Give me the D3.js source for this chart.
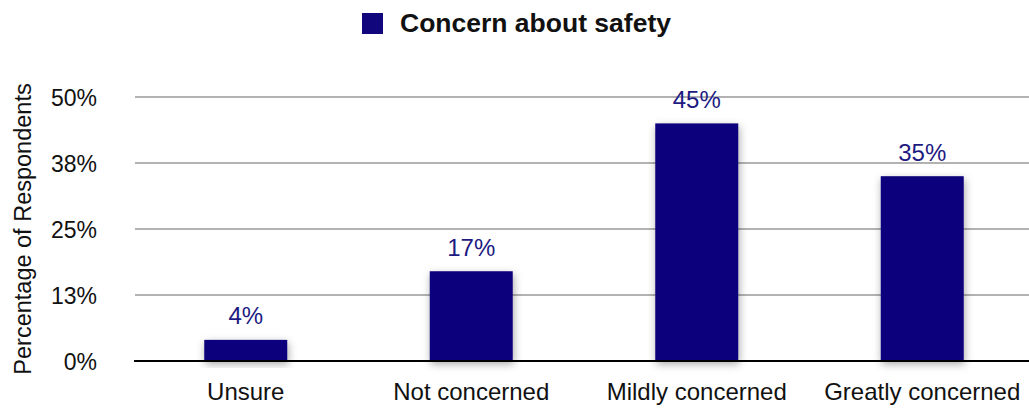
<!DOCTYPE html>
<html>
<head>
<meta charset="utf-8">
<script src="https://cdn.jsdelivr.net/npm/d3@7"></script>
<style>
  html, body { margin: 0; padding: 0; background: #fff; }
  svg { display: block; font-family: "Liberation Sans", Arial, Helvetica, sans-serif; }
</style>
</head>
<body>
<svg id="chart" width="1029" height="409"></svg>
<script>
// Survey data
const categories = ["Unsure", "Not concerned", "Mildly concerned", "Greatly concerned"];
const values = [4, 17, 45, 35];
const seriesName = "Concern about safety";
const tickValues = [0, 12.5, 25, 37.5, 50];
const tickLabels = ["0%", "13%", "25%", "38%", "50%"];
const yTitle = "Percentage of Respondents";

const barColor = "#11067b";
const labelColor = "#1d1a82";
const textColor = "#111";

const svg = d3.select("#chart");
const W = 1029;

const x = d3.scaleBand().domain(categories).range([133, 1035]).paddingInner(0.632).paddingOuter(0.316);
const y = d3.scaleLinear().domain([0, 50]).range([361, 97]);

// soft drop shadow under bars
const defs = svg.append("defs");
const f = defs.append("filter").attr("id", "shadow").attr("x", "-30%").attr("y", "-30%").attr("width", "160%").attr("height", "160%");
f.append("feDropShadow").attr("dx", 1).attr("dy", 3).attr("stdDeviation", 4)
  .attr("flood-color", "#000").attr("flood-opacity", 0.35);

// gridlines
svg.append("g").selectAll("line").data(tickValues.filter(d => d > 0)).join("line")
  .attr("x1", 135).attr("x2", W)
  .attr("y1", d => y(d)).attr("y2", d => y(d))
  .attr("stroke", "#b2b2b2").attr("stroke-width", 2);

// y tick labels
const yAxis = d3.axisLeft(y).tickValues(tickValues).tickFormat((d, i) => tickLabels[i]).tickSize(0).tickPadding(0);
const ya = svg.append("g").attr("transform", "translate(97,0)").call(yAxis);
ya.select(".domain").remove();
ya.selectAll("text").attr("font-size", 23).attr("fill", textColor).attr("dy", "0.35em")
  .attr("font-family", "Liberation Sans, Arial, sans-serif");

// y title
svg.append("text")
  .attr("transform", `translate(31, 229) rotate(-90)`)
  .attr("text-anchor", "middle")
  .attr("font-size", 23.5).attr("fill", textColor)
  .text(yTitle);

// bars
svg.append("g").selectAll("rect").data(values).join("rect")
  .attr("x", (d, i) => x(categories[i]))
  .attr("width", x.bandwidth())
  .attr("y", d => y(d))
  .attr("height", d => y(0) - y(d))
  .attr("fill", barColor)
  .attr("filter", "url(#shadow)");

// baseline axis with category labels
const xAxis = d3.axisBottom(x).tickSize(0).tickPadding(0);
const xa = svg.append("g").attr("transform", `translate(0,${y(0)})`).call(xAxis);
xa.select(".domain").attr("d", `M134,0H${W}`).attr("stroke", "#000").attr("stroke-width", 2);
xa.selectAll("text").attr("font-size", 24).attr("fill", textColor).attr("y", 39).attr("dy", 0)
  .attr("font-family", "Liberation Sans, Arial, sans-serif");

// value labels
svg.append("g").selectAll("text").data(values).join("text")
  .attr("x", (d, i) => x(categories[i]) + x.bandwidth() / 2)
  .attr("y", d => y(d) - 15.5)
  .attr("text-anchor", "middle")
  .attr("font-size", 24).attr("fill", labelColor)
  .text(d => d + "%");

// legend
const lg = svg.append("g");
lg.append("rect").attr("x", 362).attr("y", 13).attr("width", 21).attr("height", 21).attr("fill", barColor);
lg.append("text").attr("x", 400).attr("y", 32).attr("font-size", 26.5).attr("font-weight", "bold")
  .attr("fill", textColor).text(seriesName);
</script>
</body>
</html>
